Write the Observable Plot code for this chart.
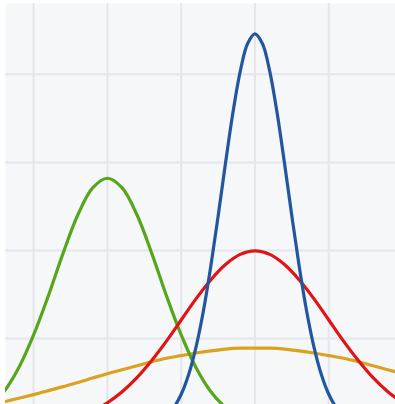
<!DOCTYPE html>
<html>
<head>
<meta charset="utf-8">
<script src="https://cdn.jsdelivr.net/npm/d3@7"></script>
<script src="https://cdn.jsdelivr.net/npm/@observablehq/plot@0.6"></script>
<style>
  html, body { margin: 0; padding: 0; background: #ffffff; }
  #chart svg { display: block; }
</style>
</head>
<body>
<div id="chart"></div>
<script>
// x positions for the wide curves
const xs = [-3.6, -3.4, -3.2, -3.0, -2.8, -2.6, -2.4, -2.2, -2.0, -1.8, -1.6, -1.4, -1.2, -1.0, -0.8, -0.6, -0.4, -0.2, 0.0, 0.2, 0.4, 0.6, 0.8, 1.0, 1.2, 1.4, 1.6, 1.8, 2.0];
// finer x positions for the narrow blue curve
const xsBlue = [-2.0, -1.9, -1.8, -1.7, -1.6, -1.5, -1.4, -1.3, -1.2, -1.1, -1.0, -0.9, -0.8, -0.7, -0.6, -0.5, -0.4, -0.3, -0.2, -0.1, 0.0, 0.1, 0.2, 0.3, 0.4, 0.5, 0.6, 0.7, 0.8, 0.9, 1.0, 1.1, 1.2, 1.3, 1.4, 1.5, 1.6, 1.7, 1.8, 1.9, 2.0];

// density values
const blueVals = [0.00004, 0.0001, 0.00027, 0.00065, 0.0015, 0.0032, 0.0066, 0.0130, 0.0244, 0.0433, 0.0732, 0.1177, 0.180, 0.262, 0.363, 0.4775, 0.598, 0.712, 0.807, 0.870, 0.892, 0.870, 0.807, 0.712, 0.598, 0.4775, 0.363, 0.262, 0.180, 0.1177, 0.0732, 0.0433, 0.0244, 0.0130, 0.0066, 0.0032, 0.0015, 0.00065, 0.00027, 0.0001, 0.00004];
const redVals = [0.0006, 0.0012, 0.0024, 0.0044, 0.0079, 0.0136, 0.022, 0.035, 0.054, 0.079, 0.111, 0.150, 0.194, 0.242, 0.290, 0.333, 0.368, 0.391, 0.399, 0.391, 0.368, 0.333, 0.290, 0.242, 0.194, 0.150, 0.111, 0.079, 0.054];
const yellowVals = [0.0488, 0.0561, 0.0641, 0.0725, 0.0815, 0.0907, 0.100, 0.110, 0.120, 0.129, 0.138, 0.147, 0.155, 0.161, 0.167, 0.172, 0.176, 0.178, 0.178, 0.178, 0.176, 0.172, 0.167, 0.161, 0.155, 0.147, 0.138, 0.129, 0.120];
const greenVals = [0.0436, 0.0794, 0.134, 0.208, 0.297, 0.394, 0.481, 0.542, 0.564, 0.542, 0.481, 0.394, 0.297, 0.208, 0.134, 0.0794, 0.0436, 0.0221, 0.0103, 0.0045, 0.0018, 0.0007, 0.0002, 0.0001, 0, 0, 0, 0, 0];

const seriesNames = ["s5", "sm2", "s1", "s02"];
const seriesColors = ["#dba21f", "#55a61b", "#e01414", "#22569f"];
const seriesX = [xs, xs, xs, xsBlue];
const seriesValues = [yellowVals, greenVals, redVals, blueVals];

const xGrid = [-3, -2, -1, 0, 1];
const yGrid = [0.2, 0.4, 0.6, 0.8];

const data = [];
seriesNames.forEach((name, i) => {
  seriesX[i].forEach((x, j) => data.push({series: name, x, y: seriesValues[i][j]}));
});

const chart = Plot.plot({
  width: 395,
  height: 404,
  marginLeft: 5,
  marginTop: 3,
  marginRight: 0,
  marginBottom: 0,
  style: {background: "#ffffff"},
  x: {domain: [-3.381, 1.904], axis: null},
  y: {domain: [0.05, 0.961], axis: null},
  color: {domain: seriesNames, range: seriesColors},
  marks: [
    Plot.frame({fill: "#f6f7f9", stroke: null}),
    Plot.ruleX(xGrid, {stroke: "#e4e6eb", strokeWidth: 2}),
    Plot.ruleY(yGrid, {stroke: "#e4e6eb", strokeWidth: 2}),
    Plot.line(data, {x: "x", y: "y", z: "series", stroke: "series", strokeWidth: 3.2, curve: "catmull-rom", clip: true})
  ]
});
document.getElementById("chart").appendChild(chart);
</script>
</body>
</html>
